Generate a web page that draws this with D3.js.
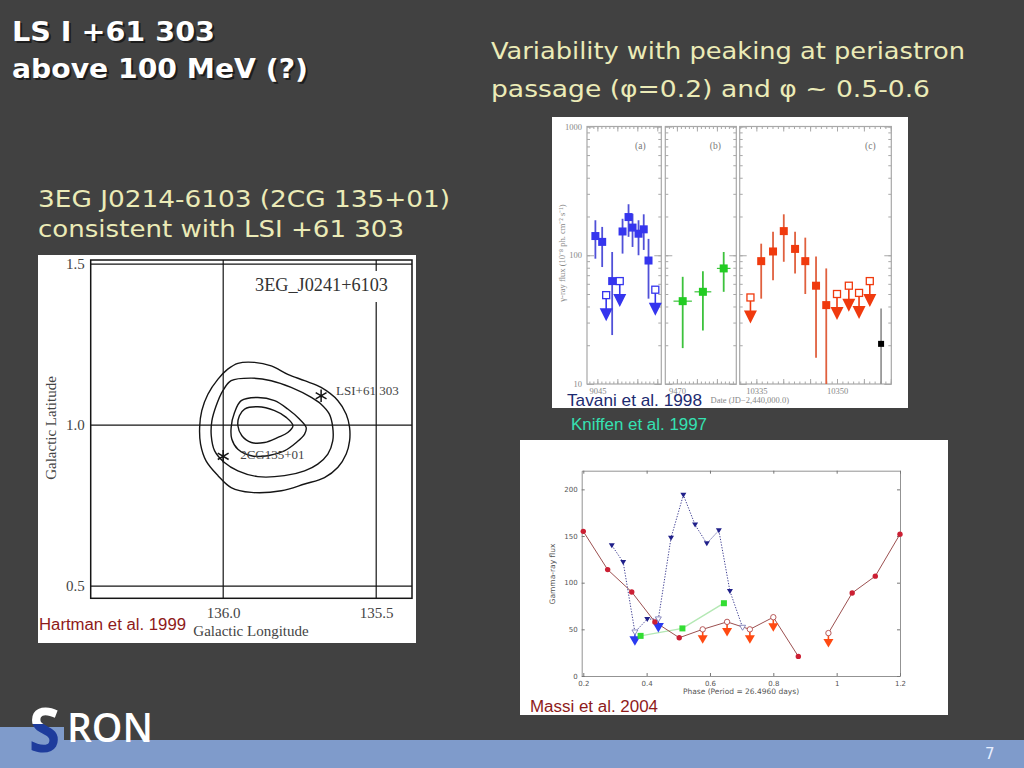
<!DOCTYPE html>
<html>
<head>
<meta charset="UTF-8">
<title>LS I +61 303 above 100 MeV</title>
<script src="https://d3js.org/d3.v7.min.js"></script>
<style>
  body { margin: 0; background: #414141; }
  svg { display: block; }
</style>
</head>
<body>
<svg width="1024" height="768"></svg>
<script>
// ---------- Hartman et al. 1999: contours in (galactic lon, galactic lat) ----------
const contourOuter = [[135.952,1.192],[135.898,1.195],[135.843,1.184],[135.789,1.158],[135.734,1.138],
  [135.680,1.117],[135.625,1.076],[135.598,1.034],[135.587,0.993],[135.587,0.951],[135.598,0.910],
  [135.625,0.869],[135.669,0.837],[135.734,0.817],[135.810,0.796],[135.908,0.791],[135.974,0.806],
  [136.017,0.843],[136.056,0.889],[136.074,0.941],[136.077,0.993],[136.070,1.045],[136.050,1.096],
  [136.017,1.143],[135.985,1.174]];
const contourSecond = [[135.974,1.138],[135.908,1.146],[135.843,1.138],[135.778,1.117],[135.712,1.086],
  [135.680,1.065],[135.653,1.034],[135.642,0.993],[135.642,0.951],[135.658,0.910],[135.691,0.879],
  [135.734,0.858],[135.800,0.843],[135.887,0.840],[135.952,0.858],[135.996,0.884],[136.028,0.920],
  [136.039,0.967],[136.037,1.013],[136.023,1.060],[136.001,1.107]];
const contourThird = [[135.941,1.076],[135.887,1.086],[135.832,1.076],[135.789,1.050],[135.751,1.019],
  [135.729,0.993],[135.734,0.972],[135.761,0.946],[135.800,0.920],[135.854,0.905],[135.908,0.905],
  [135.952,0.925],[135.972,0.957],[135.974,0.993],[135.963,1.039]];
const contourInner = [[135.930,1.050],[135.887,1.057],[135.832,1.045],[135.794,1.024],[135.772,0.998],
  [135.789,0.977],[135.821,0.962],[135.865,0.946],[135.908,0.946],[135.939,0.967],[135.952,0.998],
  [135.947,1.029]];
const sourceNames = ["LSI+61 303", "2CG135+01"];
const sourceLon = [135.680, 136.0];
const sourceLat = [1.091, 0.903];
const latTicks = [0.5, 1.0, 1.5];
const lonTicks = [136.0, 135.5];

// ---------- Tavani et al. 1998: flux light curves, 3 panels ----------
const panelDomains = [[9042.4, 9061], [9467.1, 9484.85], [10331.9, 10360.1]];
const panelNames = ["(a)", "(b)", "(c)"];
const dayTickLabels = [9045, 9470, 10335, 10350];
const fluxMajor = [10, 100, 1000];

const aDay  = [9044.5, 9046.2, 9048.7, 9051.3, 9052.8, 9053.8, 9055.3, 9056.6, 9057.8];
const aFlux = [141, 127, 63, 153, 198, 164, 147, 159, 91];
const aLow  = [94, 81, 24, 103, 139, 116, 100, 110, 46];
const aHigh = [187, 166, 106, 192, 249, 210, 187, 208, 134];
const aLimDay  = [9047.2, 9050.6, 9059.5];
const aLimFlux = [49, 63, 54];

const bDay  = [9471.45, 9476.5, 9481.7];
const bHalf = [2.3, 2.1, 1.7];
const bFlux = [44, 52, 79];
const bLow  = [19, 26, 52];
const bHigh = [68, 75, 106];

const cDay  = [10335.9, 10338.1, 10340.1, 10342.2, 10344.1, 10346.1, 10348.0];
const cFlux = [90, 107, 154, 112, 90, 58, 41];
const cLow  = [46, 64, 89, 72, 50, 16, 10];
const cHigh = [123, 152, 208, 152, 137, 98, 79];
const cLimDay  = [10333.9, 10350.0, 10352.2, 10354.1, 10356.1];
const cLimFlux = [47, 50, 58, 51, 63];
const kDay  = [10358.2];
const kFlux = [20.5];
const kLow  = [10];
const kHigh = [38.5];

// ---------- Massi et al. 2004: flux vs orbital phase ----------
const phaseTicks = [0.2, 0.4, 0.6, 0.8, 1.0, 1.2];
const fluxTicks = [0, 50, 100, 150, 200];
const redPhase = [0.2, 0.277, 0.353, 0.426, 0.503, 0.577, 0.654, 0.726, 0.8, 0.879, 0.974, 1.049, 1.122, 1.2];
const redFlux  = [155, 114, 90, 58, 41, 50, 58, 50, 63, 21, 46, 89, 107, 152];
const redLimit = [0, 0, 0, 0, 0, 1, 1, 1, 1, 0, 1, 0, 0, 0];
const redPart  = [1, 1, 1, 1, 1, 1, 1, 1, 1, 1, 2, 2, 2, 2];
const bluePhase = [0.290, 0.326, 0.363, 0.402, 0.437, 0.477, 0.516, 0.553, 0.590, 0.628, 0.663, 0.703];
const blueFlux  = [140, 122, 47, 61, 61, 148, 194, 162, 142, 156, 91, 52];
const blueLimit = [0, 0, 1, 0, 1, 0, 0, 0, 0, 0, 0, 1];
const blueArrow = [0, 0, 1, 0, 1, 0, 0, 0, 0, 0, 0, 0];
const greenPhase = [0.381, 0.513, 0.644];
const greenFlux  = [43, 51, 78];

const svg = d3.select("svg");
svg.append("rect").attr("width", 1024).attr("height", 768).attr("fill", "#414141");

function label(g, x, y, str, o) {
  const t = g.append("text").attr("x", x).attr("y", y)
    .attr("font-family", o.font || "DejaVu Sans")
    .attr("font-size", o.size)
    .attr("font-weight", o.weight || "normal")
    .attr("fill", o.fill)
    .attr("text-anchor", o.anchor || "start")
    .text(str);
  if (o.width) t.attr("textLength", o.width).attr("lengthAdjust", "spacingAndGlyphs");
  return t;
}

// footer bar and logo
const barColor = "#7f9bcb";
svg.append("rect").attr("x", 0).attr("y", 740).attr("width", 1024).attr("height", 28).attr("fill", barColor);
svg.append("rect").attr("x", 0).attr("y", 727).attr("width", 64).attr("height", 14).attr("fill", barColor);

const defs = svg.append("defs");
const sGrad = defs.append("linearGradient").attr("id", "sFill")
  .attr("gradientUnits", "userSpaceOnUse").attr("x1", 0).attr("y1", 700).attr("x2", 0).attr("y2", 760);
sGrad.append("stop").attr("offset", 0.4).attr("stop-color", "#ffffff");
sGrad.append("stop").attr("offset", 0.4).attr("stop-color", "#1e3c9c");
label(svg, 29, 752, "S", { font: "Open Sans", weight: 700, size: 60, fill: "url(#sFill)", width: 31 });
label(svg, 67, 742, "RON", { font: "Open Sans", weight: 600, size: 40, fill: "#fff", width: 86 });
label(svg, 985, 759, "7", { size: 15, fill: "#e8efff" });

// slide texts
const titles = [["LS I +61 303", 41, 203], ["above 100 MeV (?)", 78, 296]];
titles.forEach(([s, y, w]) => {
  label(svg, 14, y + 2, s, { size: 26, weight: "bold", fill: "#000", width: w }).attr("opacity", 0.55);
  label(svg, 12, y, s, { size: 26, weight: "bold", fill: "#fff", width: w });
});
const pale = "#ebebb7";
label(svg, 491, 59, "Variability with peaking at periastron", { size: 22.5, fill: pale, width: 474 });
label(svg, 491, 97, "passage (\u03c6=0.2) and \u03c6 ~ 0.5-0.6", { size: 22.5, fill: pale, width: 439 });
label(svg, 38, 207, "3EG J0214-6103 (2CG 135+01)", { size: 22.5, fill: pale, width: 412 });
label(svg, 38, 237, "consistent with LSI +61 303", { size: 22.5, fill: pale, width: 366 });

// ================= Hartman contour map =================
const hart = svg.append("g");
hart.append("rect").attr("x", 38).attr("y", 255).attr("width", 378).attr("height", 388).attr("fill", "#fff");

const lon = d3.scaleLinear().domain([136.433, 135.383]).range([90.7, 412]);
const lat = d3.scaleLinear().domain([0.462, 1.513]).range([598.3, 260]);
const ink = "#151515";

hart.append("g").selectAll("line").data(latTicks).join("line")
  .attr("x1", lon.range()[0]).attr("x2", lon.range()[1])
  .attr("y1", d => lat(d)).attr("y2", d => lat(d))
  .attr("stroke", ink).attr("stroke-width", 1.2);
hart.append("g").selectAll("line").data(lonTicks).join("line")
  .attr("x1", d => lon(d)).attr("x2", d => lon(d))
  .attr("y1", lat.range()[0]).attr("y2", lat.range()[1])
  .attr("stroke", ink).attr("stroke-width", 1.2);
hart.append("rect")
  .attr("x", lon.range()[0]).attr("y", lat.range()[1])
  .attr("width", lon.range()[1] - lon.range()[0])
  .attr("height", lat.range()[0] - lat.range()[1])
  .attr("fill", "none").attr("stroke", ink).attr("stroke-width", 1.5);

hart.append("g").attr("transform", `translate(${lon.range()[0]},0)`)
  .call(d3.axisLeft(lat).tickValues(latTicks).tickSize(0).tickPadding(6).tickFormat(d3.format(".1f")))
  .call(g => g.select(".domain").remove())
  .selectAll("text").attr("font-family", "Liberation Serif").attr("font-size", 15).attr("fill", "#444");
hart.append("g").attr("transform", `translate(0,${lat.range()[0]})`)
  .call(d3.axisBottom(lon).tickValues(lonTicks).tickSize(0).tickPadding(9).tickFormat(d3.format(".1f")))
  .call(g => g.select(".domain").remove())
  .selectAll("text").attr("font-family", "Liberation Serif").attr("font-size", 15).attr("fill", "#444");

label(hart, 251, 636, "Galactic Longitude", { font: "Liberation Serif", size: 15, fill: "#444", anchor: "middle" });
label(hart, 0, 0, "Galactic Latitude", { font: "Liberation Serif", size: 15, fill: "#444", anchor: "middle" })
  .attr("transform", "translate(56,428) rotate(-90)");

hart.append("rect").attr("x", 250).attr("y", 271).attr("width", 144).attr("height", 31).attr("fill", "#fff");
label(hart, 255, 291, "3EG_J0241+6103", { font: "Liberation Serif", size: 18, fill: "#333", width: 133 });

const contourLine = d3.line().x(d => lon(d[0])).y(d => lat(d[1])).curve(d3.curveCatmullRomClosed);
hart.append("g").selectAll("path")
  .data([contourOuter, contourSecond, contourThird, contourInner]).join("path")
  .attr("d", contourLine).attr("fill", "none").attr("stroke", ink).attr("stroke-width", 1.4);

const labelShift = [[15, -1], [17, 3]];
hart.append("g").selectAll("text").data(sourceNames).join("text")
  .attr("x", (d, i) => lon(sourceLon[i]) + labelShift[i][0])
  .attr("y", (d, i) => lat(sourceLat[i]) + labelShift[i][1])
  .attr("font-family", "Liberation Serif").attr("font-size", 13).attr("fill", "#444")
  .text(d => d);
const star = d3.symbol().type(d3.symbolAsterisk || d3.symbolCross).size(110);
hart.append("g").selectAll("path").data(sourceLon).join("path")
  .attr("transform", (d, i) => `translate(${lon(d)},${lat(sourceLat[i])})`)
  .attr("d", star).attr("fill", "none").attr("stroke", ink).attr("stroke-width", 1.5);

label(svg, 39, 630, "Hartman et al. 1999", { font: "Liberation Sans", size: 16, fill: "#8e1a1a", width: 147 });

// ================= Tavani light curves =================
const tav = svg.append("g");
tav.append("rect").attr("x", 552).attr("y", 117).attr("width", 356).attr("height", 291).attr("fill", "#fff");

const yT = d3.scaleLog().domain([10, 1000]).range([384, 126.5]);
const panelRanges = [[587, 661.3], [665.3, 736.3], [739.7, 891.3]];
const panelX = panelDomains.map((dom, i) => d3.scaleLinear().domain(dom).range(panelRanges[i]));
const frame = "#a8a8a8";

function tickRow(g, axis, tr) {
  g.append("g").attr("transform", tr).call(axis.tickSizeOuter(0).tickFormat(""))
    .call(a => a.select(".domain").remove())
    .selectAll("line").attr("stroke", frame);
}

panelX.forEach((x, i) => {
  const [x0, x1] = x.range();
  const g = tav.append("g");
  g.append("rect").attr("x", x0).attr("y", yT(1000))
    .attr("width", x1 - x0).attr("height", yT(10) - yT(1000))
    .attr("fill", "none").attr("stroke", frame).attr("stroke-width", 1.2);
  const days = d3.range(Math.ceil(x.domain()[0]), x.domain()[1], 1);
  const major = days.filter(d => d % 5 === 0);
  tickRow(g, d3.axisTop(x).tickValues(days).tickSize(-2.5), `translate(0,${yT(1000)})`);
  tickRow(g, d3.axisTop(x).tickValues(major).tickSize(-5), `translate(0,${yT(1000)})`);
  tickRow(g, d3.axisBottom(x).tickValues(days).tickSize(-2.5), `translate(0,${yT(10)})`);
  tickRow(g, d3.axisBottom(x).tickValues(major).tickSize(-5), `translate(0,${yT(10)})`);
  tickRow(g, d3.axisLeft(yT).tickValues(yT.ticks()).tickSize(-3), `translate(${x0},0)`);
  tickRow(g, d3.axisLeft(yT).tickValues(fluxMajor).tickSize(-7), `translate(${x0},0)`);
  tickRow(g, d3.axisRight(yT).tickValues(yT.ticks()).tickSize(-3), `translate(${x1},0)`);
  tickRow(g, d3.axisRight(yT).tickValues(fluxMajor).tickSize(-7), `translate(${x1},0)`);

  g.append("g").attr("transform", `translate(0,${yT(10)})`)
    .call(d3.axisBottom(x).tickValues(dayTickLabels.filter(d => d >= x.domain()[0] && d <= x.domain()[1]))
      .tickSize(0).tickPadding(4).tickFormat(d3.format("d")))
    .call(a => a.select(".domain").remove())
    .selectAll("text").attr("font-family", "Liberation Serif").attr("font-size", 8.5).attr("fill", "#888");

  label(g, x1 - 21, 149, panelNames[i], { font: "Liberation Serif", size: 9.5, fill: "#777", anchor: "middle" });
});

tav.append("g").attr("transform", `translate(${panelRanges[0][0]},0)`)
  .call(d3.axisLeft(yT).tickValues(fluxMajor).tickSize(0).tickPadding(5).tickFormat(d3.format("d")))
  .call(a => a.select(".domain").remove())
  .selectAll("text").attr("font-family", "Liberation Serif").attr("font-size", 8.5).attr("fill", "#888");

label(tav, 0, 0, "\u03b3-ray flux (10\u207b\u2078 ph. cm\u207b\u00b2 s\u207b\u00b9)",
  { font: "Liberation Serif", size: 8.5, fill: "#888", anchor: "middle" })
  .attr("transform", "translate(565,253) rotate(-90)");
label(tav, 789, 403, "Date (JD\u22122,440,000.0)",
  { font: "Liberation Serif", size: 8.5, fill: "#888", anchor: "end" });

function points(days, flux, low, high, half) {
  return days.map((d, i) => ({ day: d, flux: flux[i], low: low[i], high: high[i], half: half ? half[i] : 0 }));
}
function detections(x, pts, color, barCol, size) {
  const g = tav.append("g");
  g.selectAll("line.v").data(pts).join("line")
    .attr("x1", d => x(d.day)).attr("x2", d => x(d.day))
    .attr("y1", d => yT(d.high)).attr("y2", d => yT(d.low))
    .attr("stroke", barCol).attr("stroke-width", 1.8);
  g.selectAll("line.h").data(pts.filter(d => d.half)).join("line")
    .attr("x1", d => x(d.day - d.half)).attr("x2", d => x(d.day + d.half))
    .attr("y1", d => yT(d.flux)).attr("y2", d => yT(d.flux))
    .attr("stroke", barCol).attr("stroke-width", 1.2);
  g.selectAll("rect").data(pts).join("rect")
    .attr("x", d => x(d.day) - size / 2).attr("y", d => yT(d.flux) - size / 2)
    .attr("width", size).attr("height", size).attr("fill", color);
}
function tavLimits(x, days, flux, color) {
  const g = tav.append("g");
  const pts = days.map((d, i) => ({ day: d, flux: flux[i] }));
  g.selectAll("line").data(pts).join("line")
    .attr("x1", d => x(d.day)).attr("x2", d => x(d.day))
    .attr("y1", d => yT(d.flux) + 3).attr("y2", d => yT(d.flux) + 14)
    .attr("stroke", color).attr("stroke-width", 1.6);
  g.selectAll("path").data(pts).join("path")
    .attr("d", d => `M${x(d.day) - 6.5},${yT(d.flux) + 13}L${x(d.day) + 6.5},${yT(d.flux) + 13}L${x(d.day)},${yT(d.flux) + 26}Z`)
    .attr("fill", color);
  g.selectAll("rect").data(pts).join("rect")
    .attr("x", d => x(d.day) - 3.5).attr("y", d => yT(d.flux) - 3.5)
    .attr("width", 7).attr("height", 7)
    .attr("fill", "#fff").attr("stroke", color).attr("stroke-width", 1.3);
}

const tavBlue = "#3535ee", tavGreen = "#22cc22", tavRed = "#f03a0e";
detections(panelX[0], points(aDay, aFlux, aLow, aHigh), tavBlue, "#5050d8", 8);
tavLimits(panelX[0], aLimDay, aLimFlux, tavBlue);
detections(panelX[1], points(bDay, bFlux, bLow, bHigh, bHalf), tavGreen, "#3cc23c", 8);
detections(panelX[2], points(cDay, cFlux, cLow, cHigh), tavRed, "#e0603e", 8);
tavLimits(panelX[2], cLimDay, cLimFlux, tavRed);
detections(panelX[2], points(kDay, kFlux, kLow, kHigh), "#000", "#999", 6);

label(svg, 567, 406, "Tavani et al. 1998", { font: "Liberation Sans", size: 17, fill: "#1c2a70", width: 135 });
label(svg, 571, 430, "Kniffen et al. 1997", { font: "Liberation Sans", size: 16, fill: "#35e2b2", width: 136 });

// ================= Massi phase plot =================
const mas = svg.append("g");
mas.append("rect").attr("x", 520).attr("y", 440).attr("width", 428).attr("height", 275).attr("fill", "#fff");

const xM = d3.scaleLinear().domain([0.195, 1.2]).range([581.7, 900]);
const yM = d3.scaleLinear().domain([0, 220]).range([676, 470.7]);
const axisCol = "#777";

function styleAxis(a) {
  a.select(".domain").attr("stroke", axisCol).attr("stroke-width", 0.8);
  a.selectAll("line").attr("stroke", axisCol);
  a.selectAll("text").attr("font-family", "DejaVu Sans").attr("font-size", 7).attr("fill", "#555");
}
mas.append("g").attr("transform", `translate(0,${yM(0)})`)
  .call(d3.axisBottom(xM).tickValues(phaseTicks).tickSize(-3).tickSizeOuter(0).tickPadding(5).tickFormat(d3.format("~g")))
  .call(styleAxis);
mas.append("g").attr("transform", `translate(0,${yM(220)})`)
  .call(d3.axisTop(xM).tickValues(phaseTicks).tickSize(-3).tickSizeOuter(0).tickFormat(""))
  .call(styleAxis);
mas.append("g").attr("transform", `translate(${xM(0.195)},0)`)
  .call(d3.axisLeft(yM).tickValues(fluxTicks).tickSize(-3).tickSizeOuter(0).tickPadding(4))
  .call(styleAxis);
mas.append("g").attr("transform", `translate(${xM(1.2)},0)`)
  .call(d3.axisRight(yM).tickValues(fluxTicks).tickSize(-3).tickSizeOuter(0).tickFormat(""))
  .call(styleAxis);

label(mas, 741, 694, "Phase (Period = 26.4960 days)", { size: 7.5, fill: "#555", anchor: "middle" });
label(mas, 0, 0, "Gamma-ray flux", { size: 7.5, fill: "#555", anchor: "middle" })
  .attr("transform", "translate(555,574) rotate(-90)");

const redPts = redPhase.map((p, i) => ({ phase: p, flux: redFlux[i], limit: redLimit[i], part: redPart[i] }));
const bluePts = bluePhase.map((p, i) => ({ phase: p, flux: blueFlux[i], limit: blueLimit[i], arrow: blueArrow[i] }));
const greenPts = greenPhase.map((p, i) => ({ phase: p, flux: greenFlux[i] }));
const lineM = d3.line().x(d => xM(d.phase)).y(d => yM(d.flux));

mas.append("path").datum(greenPts).attr("d", lineM)
  .attr("fill", "none").attr("stroke", "#b4e8b4").attr("stroke-width", 1.5);
mas.append("g").selectAll("path").data(d3.groups(redPts, d => d.part).map(d => d[1])).join("path")
  .attr("d", lineM).attr("fill", "none").attr("stroke", "#9c5050").attr("stroke-width", 1);
mas.append("path").datum(bluePts).attr("d", lineM)
  .attr("fill", "none").attr("stroke", "#2c2c88").attr("stroke-width", 0.9).attr("stroke-dasharray", "1.3,1.5");

// upper-limit arrows
const redArrows = redPts.filter(d => d.limit);
mas.append("g").selectAll("line").data(redArrows).join("line")
  .attr("x1", d => xM(d.phase)).attr("x2", d => xM(d.phase))
  .attr("y1", d => yM(d.flux) + 2).attr("y2", d => yM(d.flux) + 7)
  .attr("stroke", "#ff4a12").attr("stroke-width", 1.6);
mas.append("g").selectAll("path").data(redArrows).join("path")
  .attr("d", d => `M${xM(d.phase) - 5},${yM(d.flux) + 6}L${xM(d.phase) + 5},${yM(d.flux) + 6}L${xM(d.phase)},${yM(d.flux) + 14.5}Z`)
  .attr("fill", "#ff4a12");
const blueArrows = bluePts.filter(d => d.arrow);
mas.append("g").selectAll("line").data(blueArrows).join("line")
  .attr("x1", d => xM(d.phase)).attr("x2", d => xM(d.phase))
  .attr("y1", d => yM(d.flux)).attr("y2", d => yM(d.flux) + 5)
  .attr("stroke", "#2a3af0").attr("stroke-width", 1.5);
mas.append("g").selectAll("path").data(blueArrows).join("path")
  .attr("d", d => `M${xM(d.phase) - 5.5},${yM(d.flux) + 4}L${xM(d.phase) + 5.5},${yM(d.flux) + 4}L${xM(d.phase)},${yM(d.flux) + 13.5}Z`)
  .attr("fill", "#2a3af0");

// markers
mas.append("g").selectAll("rect").data(greenPts).join("rect")
  .attr("x", d => xM(d.phase) - 3).attr("y", d => yM(d.flux) - 3)
  .attr("width", 6).attr("height", 6).attr("fill", "#33dd33");
mas.append("g").selectAll("circle").data(redPts).join("circle")
  .attr("cx", d => xM(d.phase)).attr("cy", d => yM(d.flux)).attr("r", 2.7)
  .attr("fill", d => d.limit ? "#fff" : "#cc1f33")
  .attr("stroke", d => d.limit ? "#b04848" : "none").attr("stroke-width", 0.9);
mas.append("g").selectAll("path").data(bluePts).join("path")
  .attr("d", d => `M${xM(d.phase) - 3},${yM(d.flux) - 2.2}L${xM(d.phase) + 3},${yM(d.flux) - 2.2}L${xM(d.phase)},${yM(d.flux) + 2.8}Z`)
  .attr("fill", d => d.limit ? "#fff" : "#20208a")
  .attr("stroke", d => d.limit ? "#7070b0" : "none").attr("stroke-width", 0.8);

label(svg, 530, 712, "Massi et al. 2004", { font: "Liberation Sans", size: 16, fill: "#8e1a1a", width: 128 });
</script>
</body>
</html>
